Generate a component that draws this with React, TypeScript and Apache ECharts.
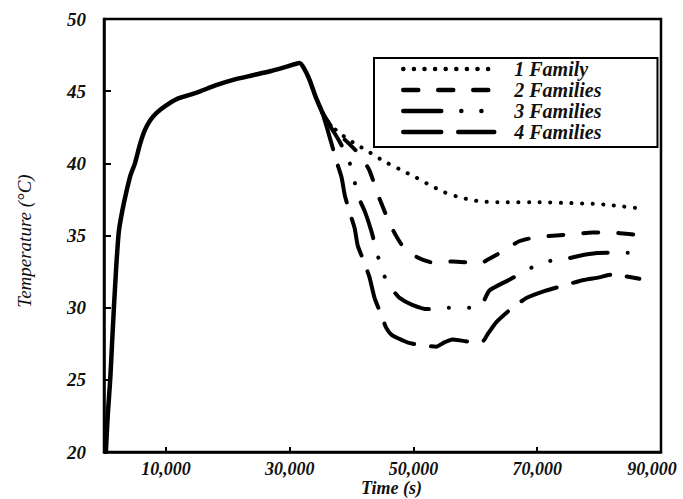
import React, { useEffect, useRef } from "react";
import * as echarts from "echarts";

// Shared heating phase (all configurations follow the same curve)
const heatTime = [300, 600, 1000, 1300, 1600, 2000, 2400, 3000, 3600, 4300, 5000, 5800, 6600, 7500, 8500, 10000, 12000, 15000, 18000, 21000, 24000, 27000, 29500, 31600, 32300, 33200, 34200, 35300];
const heatTemp = [20, 22.5, 25, 27.5, 30, 33, 35.3, 36.8, 38.0, 39.2, 40.0, 41.3, 42.3, 43.0, 43.5, 44.0, 44.5, 44.9, 45.4, 45.8, 46.1, 46.4, 46.7, 46.95, 46.6, 45.8, 44.6, 43.5];

// Cooling phase for each number of families
const oneFamilyTime = [35300, 36300, 37500, 39000, 40800, 42400, 45000, 48200, 50500, 52600, 55000, 57000, 59000, 61000, 65000, 70000, 75000, 79000, 82000, 86100];
const oneFamilyTemp = [43.5, 42.8, 42.3, 41.8, 41.3, 40.9, 40.2, 39.5, 39.0, 38.5, 38.0, 37.7, 37.5, 37.35, 37.3, 37.3, 37.25, 37.2, 37.1, 36.9];

const twoFamiliesTime = [35300, 36500, 38000, 39500, 41300, 42900, 44200, 46300, 48200, 50600, 53400, 56300, 59400, 60800, 61900, 64400, 67100, 70000, 73100, 76000, 78900, 81900, 84800, 86300];
const twoFamiliesTemp = [43.5, 42.7, 42.0, 41.4, 40.6, 39.5, 37.9, 35.7, 34.3, 33.5, 33.1, 33.2, 33.1, 33.05, 33.3, 33.9, 34.6, 34.9, 35.0, 35.1, 35.2, 35.2, 35.1, 35.05];

const threeFamiliesTime = [35300, 36500, 37800, 39400, 40300, 41000, 42200, 43200, 44000, 44700, 45600, 46700, 47700, 49800, 52300, 55500, 58700, 60600, 61300, 62300, 65800, 68700, 71600, 74800, 78100, 81300, 84500, 86300];
const threeFamiliesTemp = [43.5, 42.6, 41.7, 40.4, 39.1, 37.8, 36.6, 35.3, 34.0, 32.9, 31.9, 31.2, 30.7, 30.2, 29.9, 30.0, 30.0, 30.0, 30.4, 31.2, 32.0, 32.7, 33.2, 33.4, 33.7, 33.8, 33.8, 33.8];

const fourFamiliesTime = [35300, 36000, 36800, 37600, 38400, 38900, 39700, 40500, 41000, 42000, 42900, 43700, 44700, 45600, 46500, 47400, 49000, 51000, 53700, 55000, 56300, 58000, 60000, 61300, 61900, 63400, 66000, 68400, 70800, 74000, 77300, 80000, 82100, 84000, 86500];
const fourFamiliesTemp = [43.5, 42.5, 41.3, 40.1, 39.0, 37.8, 36.6, 35.5, 34.3, 33.2, 32.1, 30.7, 29.6, 28.6, 28.1, 27.9, 27.6, 27.4, 27.3, 27.6, 27.8, 27.7, 27.6, 27.7, 28.1, 29.0, 30.0, 30.7, 31.1, 31.5, 31.9, 32.1, 32.3, 32.2, 32.0];

const seriesNames = ["1 Family", "2 Families", "3 Families", "4 Families"];
const xTickValues = [10000, 30000, 50000, 70000, 90000];
const xMax = 90000;

const zip = (t: number[], v: number[]) => t.map((x, i) => [x, v[i]]);

const FONT = '"Liberation Serif", "Times New Roman", serif';
const INK = "#111";

export default function App() {
  const ref = useRef<HTMLDivElement>(null);

  useEffect(() => {
    if (!ref.current) return;
    const chart = echarts.init(ref.current, null, { renderer: "svg" });

    const familyLine = (name: string, t: number[], v: number[], dash: number[]) => ({
      name,
      type: "line",
      data: zip(t, v),
      symbol: "none",
      smooth: 0.2,
      lineStyle: { color: "#000", width: 4, type: dash, cap: "round", join: "round" },
      itemStyle: { color: "#000" },
      z: 3,
    });

    const tickFont = {
      fontFamily: FONT,
      fontStyle: "italic",
      fontWeight: "bold",
      fontSize: 18,
      color: INK,
    };

    chart.setOption({
      animation: false,
      backgroundColor: "#fff",
      grid: {
        left: 104,
        right: 22,
        top: 19,
        bottom: 47,
        outerBoundsMode: "none",
        show: true,
        borderColor: "#000",
        borderWidth: 2.5,
      },
      legend: {
        data: seriesNames,
        orient: "vertical",
        left: 374,
        top: 58,
        itemWidth: 91,
        itemHeight: 14,
        itemGap: 1,
        padding: [1, 56, 5, 27],
        borderColor: "#000",
        borderWidth: 2,
        itemStyle: { opacity: 0 },
        lineStyle: { width: 4.5, cap: "round" },
        textStyle: {
          fontFamily: FONT,
          fontStyle: "italic",
          fontWeight: "bold",
          fontSize: 20,
          color: INK,
          padding: [0, 0, 0, 15],
        },
      },
      xAxis: {
        type: "value",
        min: 0,
        max: xMax,
        name: "Time (s)",
        nameLocation: "middle",
        nameGap: 27,
        nameMoveOverlap: false,
        nameTextStyle: {
          fontFamily: FONT,
          fontStyle: "italic",
          fontWeight: "bold",
          fontSize: 18,
          color: INK,
          padding: [0, 0, 0, 18],
        },
        axisLine: { show: true, onZero: false, lineStyle: { color: "#000", width: 2.5 } },
        axisTick: { show: true, inside: true, length: 5, customValues: xTickValues, lineStyle: { color: "#000", width: 2 } },
        axisLabel: {
          customValues: xTickValues,
          margin: 8,
          ...tickFont,
          // keep the last label inside the chart area
          formatter: (v: number) =>
            v === xMax ? `{edge|${v.toLocaleString("en-US")}}` : v.toLocaleString("en-US"),
          rich: {
            edge: { ...tickFont, padding: [0, 18, 0, 0] },
          },
        },
        splitLine: { show: false },
      },
      yAxis: {
        type: "value",
        min: 20,
        max: 50,
        interval: 5,
        name: "Temperature (°C)",
        nameLocation: "middle",
        nameGap: 70,
        nameTextStyle: {
          fontFamily: FONT,
          fontStyle: "italic",
          fontSize: 19,
          color: INK,
          padding: [0, 11, 0, 0],
        },
        axisLine: { show: true, lineStyle: { color: "#000", width: 2.5 } },
        axisTick: { show: true, inside: true, length: 7, lineStyle: { color: "#000", width: 2 } },
        axisLabel: {
          margin: 18,
          ...tickFont,
          fontSize: 19,
        },
        splitLine: { show: false },
      },
      series: [
        {
          name: "Heating",
          type: "line",
          data: zip(heatTime, heatTemp),
          symbol: "none",
          smooth: 0.2,
          lineStyle: { color: "#000", width: 4.5, cap: "round", join: "round" },
          z: 4,
        },
        familyLine(seriesNames[0], oneFamilyTime, oneFamilyTemp, [0.1, 10.5]),
        familyLine(seriesNames[1], twoFamiliesTime, twoFamiliesTemp, [15, 20]),
        familyLine(seriesNames[2], threeFamiliesTime, threeFamiliesTemp, [38, 20, 0.1, 20, 0.1, 20]),
        familyLine(seriesNames[3], fourFamiliesTime, fourFamiliesTemp, [38, 17]),
      ],
    });

    return () => chart.dispose();
  }, []);

  return (
    <div
      ref={ref}
      style={{ position: "fixed", left: 0, top: 0, width: 683, height: 499 }}
    />
  );
}
